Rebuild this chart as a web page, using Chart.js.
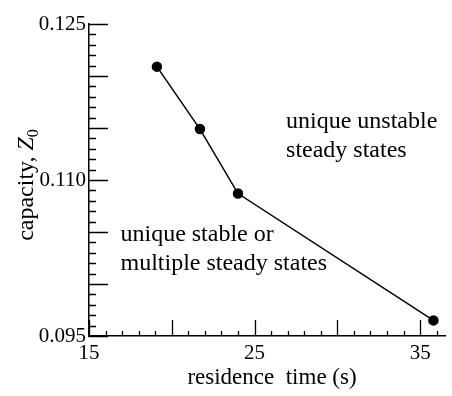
<!DOCTYPE html>
<html>
<head>
<meta charset="utf-8">
<script src="https://cdn.jsdelivr.net/npm/chart.js@4"></script>
<style>
  body { margin: 0; background: #fff; }
</style>
</head>
<body>
<canvas id="capacityChart" width="452" height="396"></canvas>
<script>
// residence time (s) vs capacity Z0
const residenceTime = [19.1, 21.7, 24.0, 35.8];
const capacity = [0.1209, 0.1149, 0.1087, 0.0965];

const xTickLabels = [15, 25, 35];
const yTickLabels = [0.095, 0.110, 0.125];

const regionNotes = [
    ["unique unstable", "steady states"],
    ["unique stable or", "multiple steady states"],
];
const noteAnchors = [[26.9, 0.1150], [16.9, 0.1041]];

const serif = '"Liberation Serif", "Times New Roman", serif';

// little inward ticks, long ones every 5 steps
const inwardTicks = {
    id: "inwardTicks",
    afterDraw(chart) {
        const ctx = chart.ctx;
        const x = chart.scales.x;
        const y = chart.scales.y;
        const area = chart.chartArea;
        ctx.save();
        ctx.strokeStyle = "#000";
        ctx.lineWidth = 1.3;
        ctx.beginPath();
        for (let i = 0; 15 + i <= 36; i++) {
            const px = Math.round(x.getPixelForValue(15 + i)) + 0.5;
            const len = i % 5 === 0 ? 16 : 5;
            ctx.moveTo(px, area.bottom);
            ctx.lineTo(px, area.bottom - len);
        }
        for (let i = 0; i <= 30; i++) {
            const py = Math.round(y.getPixelForValue(0.095 + i * 0.001)) + 0.5;
            const len = i % 5 === 0 ? 19 : 7;
            ctx.moveTo(area.left, py);
            ctx.lineTo(area.left + len, py);
        }
        ctx.stroke();

        // region labels
        ctx.fillStyle = "#000";
        ctx.font = "24px " + serif;
        ctx.textAlign = "left";
        ctx.textBaseline = "alphabetic";
        regionNotes.forEach((lines, k) => {
            const nx = x.getPixelForValue(noteAnchors[k][0]);
            const ny = y.getPixelForValue(noteAnchors[k][1]);
            lines.forEach((t, j) => ctx.fillText(t, nx, ny + j * 29));
        });

        // x title
        ctx.textAlign = "center";
        ctx.font = "23px " + serif;
        ctx.fillText("residence  time (s)", 272, 384);

        // y title, rotated, with italic Z and subscript 0
        ctx.translate(33, 185);
        ctx.rotate(-Math.PI / 2);
        ctx.textAlign = "left";
        const part1 = "capacity, ";
        ctx.font = "24px " + serif;
        const w1 = ctx.measureText(part1).width;
        ctx.font = "italic 24px " + serif;
        const w2 = ctx.measureText("Z").width;
        ctx.font = "16px " + serif;
        const w3 = ctx.measureText("0").width;
        let sx = -(w1 + w2 + w3) / 2;
        ctx.font = "24px " + serif;
        ctx.fillText(part1, sx, 0);
        ctx.font = "italic 24px " + serif;
        ctx.fillText("Z", sx + w1, 0);
        ctx.font = "16px " + serif;
        ctx.fillText("0", sx + w1 + w2, 5);
        ctx.restore();
    },
};

const ctx = document.getElementById("capacityChart").getContext("2d");
const capacityChart = new Chart(ctx, {
    type: "scatter",
    data: {
        datasets: [
            {
                data: residenceTime.map((t, i) => ({ x: t, y: capacity[i] })),
                showLine: true,
                borderColor: "#000",
                backgroundColor: "#000",
                borderWidth: 1.5,
                pointRadius: 4.5,
                pointHoverRadius: 4.5,
            },
        ],
    },
    options: {
        responsive: false,
        animation: false,
        layout: {
            padding: { top: 24, right: 7, left: 0, bottom: 0 },
        },
        plugins: {
            legend: { display: false },
            tooltip: { enabled: false },
        },
        scales: {
            x: {
                type: "linear",
                min: 15,
                max: 36.5,
                grid: { display: false, drawTicks: false },
                border: { display: true, color: "#000", width: 1.5 },
                afterBuildTicks: (s) => {
                    s.ticks = xTickLabels.map((v) => ({ value: v }));
                },
                afterFit: (s) => {
                    s.height = 60;
                },
                ticks: {
                    color: "#000",
                    padding: 5,
                    maxRotation: 0,
                    font: { family: serif, size: 21 },
                },
            },
            y: {
                type: "linear",
                min: 0.095,
                max: 0.125,
                grid: { display: false, drawTicks: false },
                border: { display: true, color: "#000", width: 1.5 },
                afterBuildTicks: (s) => {
                    s.ticks = yTickLabels.map((v) => ({ value: v }));
                },
                afterFit: (s) => {
                    s.width = 89;
                },
                ticks: {
                    color: "#000",
                    padding: 3,
                    font: { family: serif, size: 21 },
                    callback: (v) => v.toFixed(3),
                },
            },
        },
    },
    plugins: [inwardTicks],
});
</script>
</body>
</html>
